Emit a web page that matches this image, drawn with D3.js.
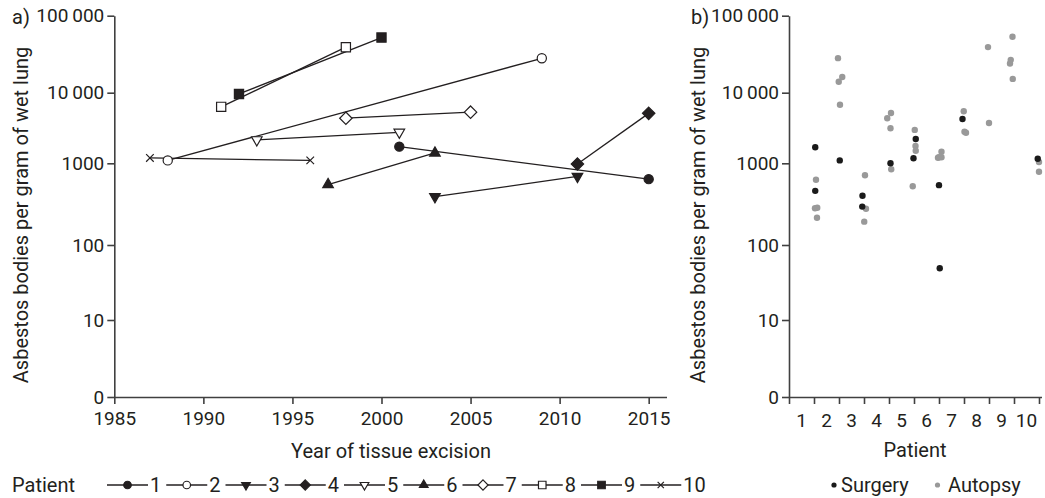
<!DOCTYPE html>
<html>
<head>
<meta charset="utf-8">
<script src="https://cdn.jsdelivr.net/npm/d3@7"></script>
<style>
  body { margin: 0; background: #fff; }
  svg text { font-family: Roboto, "DejaVu Sans", sans-serif; fill: #231f20; }
</style>
</head>
<body>
<svg id="chart" width="1045" height="498"></svg>
<script>
// ---- data: panel a (two samples per patient) ----
const patients = [1, 2, 3, 4, 5, 6, 7, 8, 9, 10];
const excisionYears = [
  [2001, 2015], [1988, 2009], [2003, 2011], [2011, 2015], [1993, 2001],
  [1997, 2003], [1998, 2005], [1991, 1998], [1992, 2000], [1987, 1996]
];
const bodyCounts = [
  [1720, 640], [1100, 28000], [390, 690], [980, 5100], [2150, 2750],
  [550, 1400], [4350, 5300], [6300, 39000], [9600, 52000], [1190, 1100]
];

// ---- data: panel b (position on patient axis, value) ----
const surgeryX = [1.05, 1.05, 2.03, 2.94, 2.93, 4.06, 5.07, 4.98, 6.0, 6.03, 6.94, 9.95];
const surgeryVal = [1690, 460, 1100, 400, 295, 1000, 2210, 1180, 540, 49, 4240, 1160];
const autopsyX = [1.08, 1.04, 1.13, 1.12, 1.96, 1.99, 2.13, 2.04, 3.04, 3.08, 3.01,
  3.93, 4.08, 4.06, 4.09, 5.03, 5.06, 5.07, 4.95, 6.1, 5.96, 6.0, 6.1,
  6.99, 7.02, 7.08, 7.96, 8.0, 8.94, 8.87, 8.84, 8.95, 10.0, 10.0];
const autopsyVal = [630, 282, 286, 216, 28100, 13900, 16000, 6760, 713, 278, 193,
  4340, 5150, 3130, 845, 2970, 1757, 1507, 523, 1460, 1200, 1220, 1220,
  5450, 2800, 2710, 39100, 3720, 53200, 26700, 23900, 15100, 1043, 789];

// ---- ticks ----
const yTicks = [1, 10, 100, 1000, 10000, 100000];
const yTickLabels = ["0", "10", "100", "1000", "10\u2009000", "100\u2009000"];
const yearTicks = [1985, 1990, 1995, 2000, 2005, 2010, 2015];

// marker style for each patient
const markerShape = ["circle", "circle", "triDown", "diamond", "triDown", "triUp", "diamond", "square", "square", "x"];
const markerFilled = [true, false, true, true, false, true, false, false, true, false];

const ink = "#231f20";
const axisColor = "#404040";
const svg = d3.select("#chart");

// the printed log axis is not quite even, so map each decade to its tick
const y = d3.scaleLog()
    .domain(yTicks)
    .range([397, 320, 245, 163.3, 92.7, 15.7]);

const xA = d3.scaleLinear().domain([1985, 2016]).range([114.3, 666.5]);
const xB = d3.scaleLinear().domain([0, 10.1]).range([789, 1041.5]);

function markerPath(shape, s) {
  const r = 4.6 * s;
  if (shape === "circle") {
    return "M" + r + ",0A" + r + "," + r + " 0 1,1 " + (-r) + ",0A" + r + "," + r + " 0 1,1 " + r + ",0Z";
  }
  if (shape === "square") {
    return "M" + (-r) + "," + (-r) + "H" + r + "V" + r + "H" + (-r) + "Z";
  }
  if (shape === "diamond") {
    const d = 6.2 * s;
    return "M0," + (-d) + "L" + d + ",0L0," + d + "L" + (-d) + ",0Z";
  }
  if (shape === "triUp" || shape === "triDown") {
    const w = 5.3 * s, h = w * Math.sqrt(3), k = shape === "triUp" ? 1 : -1;
    return "M0," + (-k * h * 2 / 3) + "L" + w + "," + (k * h / 3) + "L" + (-w) + "," + (k * h / 3) + "Z";
  }
  const c = 3.8 * s;
  return "M" + (-c) + "," + (-c) + "L" + c + "," + c + "M" + (-c) + "," + c + "L" + c + "," + (-c);
}

function drawMarker(g, i, cx, cy, s) {
  g.append("path")
      .attr("transform", "translate(" + cx + "," + cy + ")")
      .attr("d", markerPath(markerShape[i], s))
      .attr("fill", markerShape[i] === "x" ? "none" : (markerFilled[i] ? ink : "#fff"))
      .attr("stroke", ink)
      .attr("stroke-width", 1.2);
}

function styleAxis(g) {
  g.attr("font-family", null).attr("font-size", 19);
  g.selectAll("path.domain").attr("stroke", axisColor).attr("stroke-width", 1.6);
  g.selectAll(".tick line").attr("stroke", axisColor).attr("stroke-width", 1.6);
  g.selectAll(".tick text").attr("fill", ink);
}

function yAxis(x0) {
  svg.append("g")
      .attr("transform", "translate(" + x0 + ",0)")
      .call(d3.axisLeft(y)
        .tickValues(yTicks)
        .tickFormat(function(d, i) { return yTickLabels[i]; })
        .tickSize(7)
        .tickSizeOuter(0)
        .tickPadding(3))
      .call(styleAxis);
}

function yTitle(xBase) {
  svg.append("text")
      .attr("transform", "translate(" + xBase + ",215) rotate(-90)")
      .attr("text-anchor", "middle")
      .attr("font-size", 20)
      .text("Asbestos bodies per gram of wet lung");
}

// ================= panel a =================
yAxis(114.3);
svg.append("g")
    .attr("transform", "translate(0," + y(1) + ")")
    .call(d3.axisBottom(xA)
      .tickValues(yearTicks)
      .tickFormat(d3.format("d"))
      .tickSize(7)
      .tickSizeOuter(0)
      .tickPadding(8))
    .call(styleAxis);

yTitle(27.5);
svg.append("text").attr("x", 12).attr("y", 24).attr("font-size", 20).text("a)");
svg.append("text")
    .attr("x", 391).attr("y", 458)
    .attr("text-anchor", "middle")
    .attr("font-size", 20)
    .text("Year of tissue excision");

const linesA = svg.append("g");
const marksA = svg.append("g");
patients.forEach(function(p, i) {
  const pts = excisionYears[i].map(function(yr, j) { return [xA(yr), y(bodyCounts[i][j])]; });
  linesA.append("path")
      .attr("d", d3.line()(pts))
      .attr("fill", "none")
      .attr("stroke", ink)
      .attr("stroke-width", 1.3);
  pts.forEach(function(pt) { drawMarker(marksA, i, pt[0], pt[1], 1); });
});

// legend a
const legY = 485;
svg.append("text").attr("x", 12).attr("y", 492).attr("font-size", 20).text("Patient");
let lx = 107;
patients.forEach(function(p, i) {
  const g = svg.append("g");
  g.append("line")
      .attr("x1", lx).attr("x2", lx + 41)
      .attr("y1", legY).attr("y2", legY)
      .attr("stroke", ink).attr("stroke-width", 1.3);
  drawMarker(g, i, lx + 20.5, legY, 0.82);
  const t = g.append("text")
      .attr("x", lx + 43).attr("y", 492)
      .attr("font-size", 20)
      .text(p);
  lx += 41 + 2 + t.node().getComputedTextLength() + 5;
});

// ================= panel b =================
yAxis(789);
const xAxisB = svg.append("g")
    .attr("transform", "translate(0," + y(1) + ")")
    .call(d3.axisBottom(xB)
      .tickValues(d3.range(0, 11))
      .tickFormat("")
      .tickSize(7)
      .tickSizeOuter(0))
    .call(styleAxis);

xAxisB.selectAll(".pLabel")
    .data(patients)
    .enter().append("text")
    .attr("class", "pLabel")
    .attr("x", function(d) { return xB(d - 0.5); })
    .attr("y", 426.5 - y(1))
    .attr("text-anchor", "middle")
    .attr("font-size", 19)
    .text(function(d) { return d; });

yTitle(705);
svg.append("text").attr("x", 691).attr("y", 24).attr("font-size", 20).text("b)");
svg.append("text")
    .attr("x", 915).attr("y", 457)
    .attr("text-anchor", "middle")
    .attr("font-size", 20)
    .text("Patient");

const gray = "#999999";
svg.append("g").selectAll("circle")
    .data(autopsyVal)
    .enter().append("circle")
    .attr("cx", function(d, i) { return xB(autopsyX[i]); })
    .attr("cy", function(d) { return y(d); })
    .attr("r", 3.2)
    .attr("fill", gray);

svg.append("g").selectAll("circle")
    .data(surgeryVal)
    .enter().append("circle")
    .attr("cx", function(d, i) { return xB(surgeryX[i]); })
    .attr("cy", function(d) { return y(d); })
    .attr("r", 3.2)
    .attr("fill", "#1a1a1a");

// legend b
svg.append("circle").attr("cx", 834).attr("cy", legY).attr("r", 2.6).attr("fill", "#1a1a1a");
svg.append("text").attr("x", 841).attr("y", 492).attr("font-size", 20).text("Surgery");
svg.append("circle").attr("cx", 937.5).attr("cy", legY).attr("r", 2.6).attr("fill", gray);
svg.append("text").attr("x", 948).attr("y", 492).attr("font-size", 20).text("Autopsy");
</script>
</body>
</html>
